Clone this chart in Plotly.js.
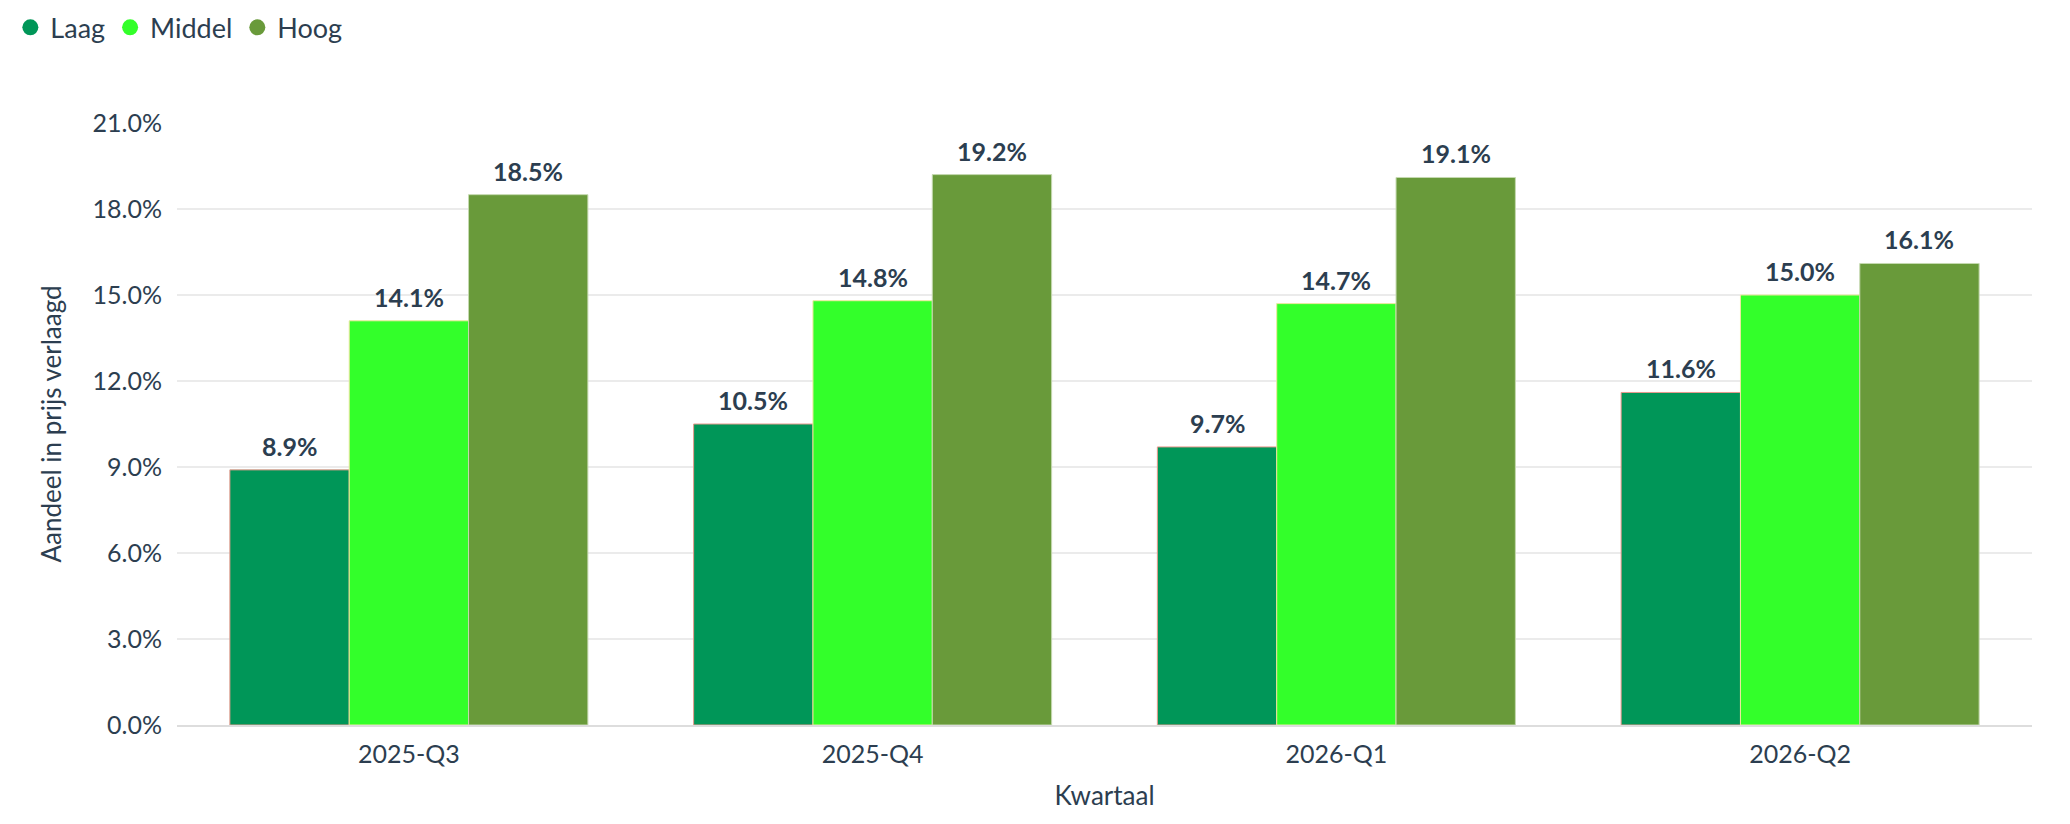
<!DOCTYPE html>
<html>
<head>
<meta charset="utf-8">
<script src="https://cdn.plot.ly/plotly-3.0.1.min.js"></script>
<style>html,body{margin:0;padding:0;background:#fff;}#chart{width:2070px;height:824px;}</style>
</head>
<body>
<div id="chart"></div>
<script>
const categories = ["2025-Q3", "2025-Q4", "2026-Q1", "2026-Q2"];
const seriesNames = ["Laag", "Middel", "Hoog"];
const laag = [8.9, 10.5, 9.7, 11.6];
const middel = [14.1, 14.8, 14.7, 15.0];
const hoog = [18.5, 19.2, 19.1, 16.1];
const yTicks = [0, 3, 6, 9, 12, 15, 18, 21];

const colors = ["#009658", "#33ff2a", "#699a3a"];
const lineColors = ["#e8998d", "#efe8a0", "#c5d9b0"];
const values = [laag, middel, hoog];
const textColor = "#2c3e50";
const bargap = 0.228;
const barW = (1 - bargap) / values.length;

const traces = [];
values.forEach((v, i) => {
  traces.push({
    type: "bar",
    name: seriesNames[i],
    x: categories,
    y: v,
    legendgroup: seriesNames[i],
    showlegend: false,
    marker: { color: colors[i], line: { color: lineColors[i], width: 1 } },
    hoverinfo: "x+y+name"
  });
});
values.forEach((v, i) => {
  traces.push({
    type: "scatter",
    mode: "markers",
    name: seriesNames[i],
    x: [null],
    y: [null],
    legendgroup: seriesNames[i],
    showlegend: true,
    marker: { color: colors[i], size: 16, symbol: "circle" }
  });
});

const annotations = [];
values.forEach((v, i) => {
  v.forEach((d, c) => {
    annotations.push({
      x: c + (i - (values.length - 1) / 2) * barW,
      y: d,
      xref: "x",
      yref: "y",
      text: "<b>" + d.toFixed(1) + "%</b>",
      showarrow: false,
      yanchor: "bottom",
      yshift: 7,
      font: { family: "Lato", size: 25, color: textColor }
    });
  });
});

const layout = {
  width: 2070,
  height: 824,
  margin: { l: 177, r: 38, t: 123, b: 99 },
  paper_bgcolor: "#ffffff",
  plot_bgcolor: "#ffffff",
  font: { family: "Lato", size: 25, color: textColor },
  barmode: "group",
  bargap: bargap,
  bargroupgap: 0,
  showlegend: true,
  annotations: annotations,
  legend: {
    orientation: "h",
    xref: "container",
    yref: "container",
    x: 0.005,
    y: 0.996,
    xanchor: "left",
    yanchor: "top",
    font: { family: "Lato", size: 27, color: textColor },
    itemwidth: 30,
    tracegroupgap: 0
  },
  xaxis: {
    type: "category",
    categoryorder: "array",
    categoryarray: categories,
    title: { text: "Kwartaal", font: { family: "Lato", size: 26, color: textColor }, standoff: 20 },
    tickfont: { family: "Lato", size: 25, color: textColor },
    showline: true,
    linecolor: "#dddddd",
    linewidth: 2,
    showgrid: false,
    ticks: "",
    ticklabelstandoff: 6
  },
  yaxis: {
    range: [0, 21],
    tickvals: yTicks,
    ticktext: yTicks.map(t => t.toFixed(1) + "%"),
    title: { text: "Aandeel in prijs verlaagd", font: { family: "Lato", size: 26, color: textColor }, standoff: 23 },
    tickfont: { family: "Lato", size: 25, color: textColor },
    gridcolor: "#ebebeb",
    gridwidth: 2,
    zeroline: false,
    showline: false,
    ticks: "",
    ticklabelstandoff: 14
  }
};

Plotly.newPlot("chart", traces, layout, { displayModeBar: false, responsive: false });
</script>
</body>
</html>
